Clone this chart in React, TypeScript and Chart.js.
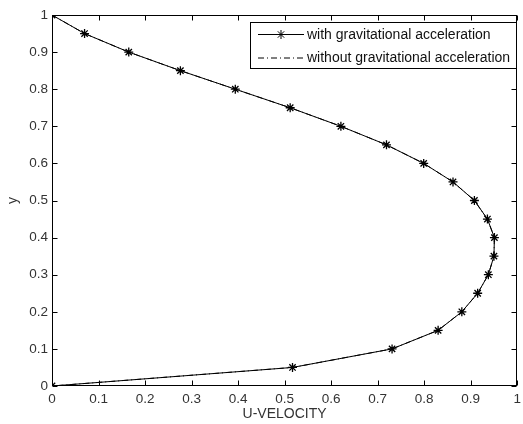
import React, { useEffect, useRef } from 'react';
import { Chart, registerables } from 'chart.js';

Chart.register(...registerables);

// y positions (ordinate) of the profile points
const yValues = [1, 0.95, 0.9, 0.85, 0.8, 0.75, 0.7, 0.65, 0.6, 0.55, 0.5, 0.45, 0.4, 0.35, 0.3, 0.25, 0.2, 0.15, 0.1, 0.05, 0];
// U-velocity with gravitational acceleration
const uWithGravity = [0, 0.07, 0.165, 0.276, 0.394, 0.512, 0.621, 0.719, 0.799, 0.862, 0.908, 0.936, 0.951, 0.95, 0.938, 0.915, 0.881, 0.83, 0.731, 0.517, 0];
// U-velocity without gravitational acceleration (overlaps the first curve)
const uWithoutGravity = [0, 0.07, 0.165, 0.276, 0.394, 0.512, 0.621, 0.719, 0.799, 0.862, 0.908, 0.936, 0.951, 0.95, 0.938, 0.915, 0.881, 0.83, 0.731, 0.517, 0];

const xTicks = [0, 0.1, 0.2, 0.3, 0.4, 0.5, 0.6, 0.7, 0.8, 0.9, 1];
const yTicks = [0, 0.1, 0.2, 0.3, 0.4, 0.5, 0.6, 0.7, 0.8, 0.9, 1];
const seriesLabels = ['with gravitational acceleration', 'without gravitational acceleration'];
const xTitle = 'U-VELOCITY';
const yTitle = 'y';

const FONT = '"Liberation Sans", Arial, sans-serif';
const DASH_DOT = [6, 3, 1, 3];

const fmt = (v: number) => String(Number(v.toFixed(1)));

const boxPlugin = {
  id: 'matlabBox',
  afterDraw(chart: any) {
    const { ctx, chartArea } = chart;
    const { left, right, top, bottom } = chartArea;
    const xs = chart.scales.x;
    const ys = chart.scales.y;
    ctx.save();
    ctx.strokeStyle = '#000';
    ctx.lineWidth = 1;
    ctx.setLineDash([]);
    const L = Math.round(left) + 0.5;
    const R = Math.round(right) - 0.5;
    const T = Math.round(top) + 0.5;
    const B = Math.round(bottom) - 0.5;
    ctx.strokeRect(L, T, R - L, B - T);
    const tl = 5;
    ctx.beginPath();
    xTicks.forEach((t) => {
      const px = Math.round(xs.getPixelForValue(t)) + 0.5;
      ctx.moveTo(px, B);
      ctx.lineTo(px, B - tl);
      ctx.moveTo(px, T);
      ctx.lineTo(px, T + tl);
    });
    yTicks.forEach((t) => {
      const py = Math.round(ys.getPixelForValue(t)) + 0.5;
      ctx.moveTo(L, py);
      ctx.lineTo(L + tl, py);
      ctx.moveTo(R, py);
      ctx.lineTo(R - tl, py);
    });
    ctx.stroke();

    // legend
    const bx = 250.5, by = 22.5, bw = 266, bh = 46;
    ctx.fillStyle = '#fff';
    ctx.fillRect(bx, by, bw, bh);
    ctx.strokeRect(bx, by, bw, bh);
    const rows = [34.5, 58];
    const x0 = 258, x1 = 304, tx = 307;
    ctx.font = '14px ' + FONT;
    ctx.textBaseline = 'middle';
    ctx.textAlign = 'left';
    ctx.fillStyle = '#111';
    // row 1
    ctx.beginPath();
    ctx.moveTo(x0, rows[0]);
    ctx.lineTo(x1, rows[0]);
    ctx.stroke();
    const mx = (x0 + x1) / 2, my = rows[0], r = 4.5;
    ctx.beginPath();
    for (let i = 0; i < 4; i++) {
      const a = (i * Math.PI) / 4;
      ctx.moveTo(mx - r * Math.cos(a), my - r * Math.sin(a));
      ctx.lineTo(mx + r * Math.cos(a), my + r * Math.sin(a));
    }
    ctx.stroke();
    ctx.fillText(seriesLabels[0], tx, rows[0] + 0.5);
    // row 2
    ctx.beginPath();
    ctx.setLineDash(DASH_DOT);
    ctx.moveTo(x0, rows[1]);
    ctx.lineTo(x1, rows[1]);
    ctx.stroke();
    ctx.setLineDash([]);
    ctx.fillText(seriesLabels[1], tx, rows[1] + 0.5);
    ctx.restore();
  },
};

export default function App() {
  const ref = useRef<HTMLCanvasElement | null>(null);
  useEffect(() => {
    if (!ref.current) return;
    const chart = new Chart(ref.current, {
      type: 'scatter',
      data: {
        datasets: [
          {
            label: seriesLabels[1],
            data: yValues.map((y, i) => ({ x: uWithoutGravity[i], y })),
            showLine: true,
            borderColor: '#000',
            borderWidth: 1,
            borderDash: DASH_DOT,
            pointRadius: 0,
            tension: 0,
            order: 2,
          },
          {
            label: seriesLabels[0],
            data: yValues.map((y, i) => ({ x: uWithGravity[i], y })),
            showLine: true,
            borderColor: '#000',
            backgroundColor: '#000',
            borderWidth: 1,
            pointStyle: 'star',
            pointRadius: 4.5,
            pointBorderWidth: 1.3,
            pointBorderColor: '#000',
            tension: 0,
            order: 1,
          },
        ],
      },
      options: {
        animation: false,
        responsive: false,
        maintainAspectRatio: false,
        layout: { padding: { left: 0, right: 1, top: 15, bottom: 0 } },
        plugins: { legend: { display: false }, tooltip: { enabled: false } },
        scales: {
          x: {
            type: 'linear',
            min: 0,
            max: 1,
            afterBuildTicks: (s: any) => {
              s.ticks = xTicks.map((v) => ({ value: v }));
            },
            afterFit: (s: any) => {
              s.height = 38;
              s.paddingLeft = 0;
              s.paddingRight = 0;
            },
            grid: { display: false, drawTicks: false },
            border: { display: false },
            ticks: {
              callback: (v: any) => fmt(Number(v)),
              color: '#333',
              font: { family: FONT, size: 13.5 },
              padding: 5,
              maxRotation: 0,
              autoSkip: false,
            },
            title: {
              display: true,
              text: xTitle,
              color: '#333',
              font: { family: FONT, size: 14 },
              padding: { top: 0, bottom: 1 },
            },
          },
          y: {
            type: 'linear',
            min: 0,
            max: 1,
            afterBuildTicks: (s: any) => {
              s.ticks = yTicks.map((v) => ({ value: v }));
            },
            afterFit: (s: any) => {
              s.width = 52;
            },
            grid: { display: false, drawTicks: false },
            border: { display: false },
            ticks: {
              callback: (v: any) => fmt(Number(v)),
              color: '#333',
              font: { family: FONT, size: 13.5 },
              padding: 4,
              autoSkip: false,
            },
            title: {
              display: true,
              text: yTitle,
              color: '#333',
              font: { family: FONT, size: 14 },
              padding: { top: 5, bottom: 0 },
            },
          },
        },
      },
      plugins: [boxPlugin],
    });
    return () => chart.destroy();
  }, []);
  return (
    <div style={{ position: 'fixed', left: 0, top: 0, width: 523, height: 424, background: '#fff' }}>
      <canvas ref={ref} width={523} height={424} style={{ display: 'block', width: 523, height: 424 }} />
    </div>
  );
}
